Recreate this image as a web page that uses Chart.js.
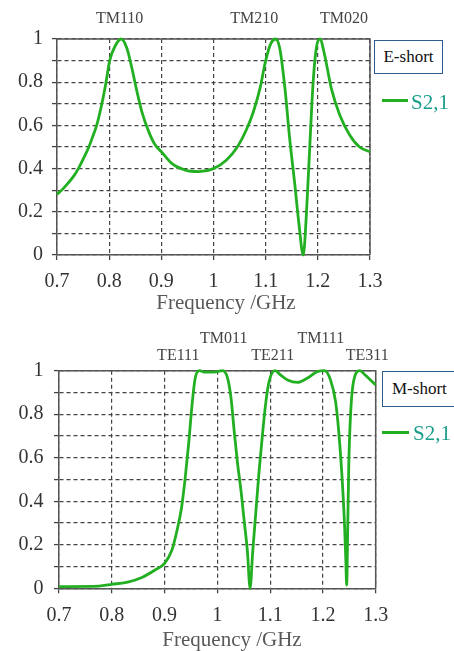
<!DOCTYPE html>
<html><head><meta charset="utf-8">
<script src="https://cdn.jsdelivr.net/npm/chart.js@4.4.1/dist/chart.umd.min.js"></script>
<style>
html,body{margin:0;padding:0;background:#fff;}
body{width:454px;height:651px;position:relative;overflow:hidden;font-family:'Liberation Serif',serif;}
.wrap{position:absolute;left:0;width:454px;}
#w1{top:0;height:320px}
#w2{top:320px;height:331px}
canvas{display:block}
.box{position:absolute;border:1.5px solid #2f5b8c;background:#fff;color:#111;font-family:'Liberation Serif',serif;font-size:17px;box-sizing:border-box;white-space:nowrap;}
.lline{position:absolute;height:3px;background:#22b022;}
.ltxt{position:absolute;font-family:'Liberation Serif',serif;font-size:21px;line-height:24px;color:#1a9c8a;white-space:nowrap;}
</style>
</head><body>
<div class="wrap" id="w1"><canvas id="c1" width="454" height="320"></canvas></div>
<div class="wrap" id="w2"><canvas id="c2" width="454" height="331"></canvas></div>

<div class="box" style="left:374px;top:40px;width:69px;height:34px;line-height:31px;text-align:center;">E-short</div>
<div class="lline" style="left:382px;top:99px;width:26px;"></div>
<div class="ltxt" style="left:411px;top:90px;">S2,1</div>

<div class="box" style="left:382px;top:371px;width:82px;height:36px;line-height:33px;padding-left:9px;">M-short</div>
<div class="lline" style="left:382px;top:431px;width:27px;"></div>
<div class="ltxt" style="left:413px;top:421px;">S2,1</div>

<script>
// ---- data ----
const topFreq = [0.700,0.711,0.722,0.732,0.741,0.750,0.760,0.768,0.776,0.786,0.794,0.801,0.812,0.823,0.834,0.844,0.853,0.863,0.876,0.888,0.900,0.920,0.946,0.972,1.000,1.025,1.044,1.063,1.076,1.089,1.100,1.110,1.119,1.127,1.137,1.146,1.156,1.164,1.172,1.178,1.185,1.191,1.197,1.204,1.213,1.226,1.242,1.261,1.280,1.300];
const topS21  = [0.281,0.305,0.335,0.365,0.40,0.443,0.494,0.545,0.60,0.70,0.80,0.90,0.97,1.0,0.957,0.86,0.76,0.66,0.57,0.51,0.478,0.424,0.393,0.386,0.40,0.44,0.494,0.58,0.66,0.77,0.90,0.98,1.0,0.957,0.77,0.54,0.324,0.139,0.0,0.185,0.525,0.80,0.957,1.0,0.926,0.77,0.648,0.556,0.50,0.478];

const botFreq = [0.700,0.775,0.800,0.832,0.857,0.882,0.900,0.914,0.923,0.932,0.939,0.946,0.952,0.958,0.966,0.977,0.990,1.000,1.010,1.0195,1.026,1.032,1.038,1.045,1.051,1.057,1.062,1.067,1.073,1.079,1.086,1.092,1.098,1.109,1.120,1.133,1.152,1.170,1.189,1.203,1.214,1.224,1.230,1.236,1.241,1.2435,1.245,1.247,1.249,1.252,1.258,1.270,1.280,1.290,1.300];
const botS21  = [0.008,0.01,0.018,0.03,0.05,0.084,0.115,0.176,0.26,0.368,0.505,0.674,0.842,0.965,1.0,0.993,0.993,0.996,1.0,0.965,0.873,0.72,0.58,0.444,0.306,0.168,0.0,0.168,0.352,0.536,0.72,0.858,0.95,1.0,0.98,0.957,0.946,0.965,0.995,1.0,0.96,0.858,0.72,0.52,0.29,0.12,0.015,0.276,0.567,0.78,0.95,1.0,0.98,0.957,0.934];

const xTickLabels = ['0.7','0.8','0.9','1','1.1','1.2','1.3'];
const yTickLabels = ['0','0.2','0.4','0.6','0.8','1'];

const topModes = ['TM110','TM210','TM020'];
const topModeFreq = [0.82,1.078,1.25];
const topModeRow = [0,0,0];
const botModes = ['TE111','TM011','TE211','TM111','TE311'];
const botModeFreq = [0.926,1.012,1.105,1.196,1.284];
const botModeRow = [1,0,1,0,1];

const xTitle = 'Frequency /GHz';

// ---- helpers ----
const SERIF = "'Liberation Serif', serif";
const GREEN = '#22b022';

function pts(fs, vs){ return fs.map((f,i)=>({x:f,y:vs[i]})); }

function makeChart(id, freq, vals, cfg){
  const annot = {
    id:'annot',
    beforeDatasetsDraw(chart){
      const {ctx, chartArea:a} = chart;
      ctx.save();
      ctx.strokeStyle = '#555';
      ctx.lineWidth = 1.5;
      ctx.beginPath();
      ctx.moveTo(a.left, a.top); ctx.lineTo(a.right, a.top); ctx.lineTo(a.right, a.bottom);
      ctx.stroke();
      ctx.restore();
    },
    afterDraw(chart){
      const {ctx} = chart;
      const xs = chart.scales.x;
      ctx.save();
      ctx.fillStyle = '#444';
      ctx.font = '16px ' + SERIF;
      ctx.textAlign = 'center';
      ctx.textBaseline = 'middle';
      cfg.modes.forEach((m,i)=>{
        ctx.fillText(m, xs.getPixelForValue(cfg.modeFreq[i]), cfg.rowY[cfg.modeRow[i]]);
      });
      ctx.fillStyle = '#595959';
      ctx.font = '21px ' + SERIF;
      ctx.fillText(xTitle, cfg.titleX, cfg.titleY);
      ctx.restore();
    }
  };
  return new Chart(document.getElementById(id), {
    type:'line',
    data:{datasets:[{
      data: pts(freq, vals),
      borderColor: GREEN,
      borderWidth: 2.8,
      pointRadius: 0,
      cubicInterpolationMode: 'monotone',
      fill: false,
      clip: 4
    }]},
    options:{
      responsive:false,
      devicePixelRatio:1,
      animation:false,
      layout:{padding:{top:cfg.padTop,right:cfg.padRight,left:0,bottom:0}},
      plugins:{legend:{display:false},tooltip:{enabled:false}},
      scales:{
        x:{
          type:'linear', min:0.7, max:1.3,
          afterFit(s){ s.height = cfg.xH; },
          ticks:{stepSize:0.1, padding:10, color:'#333', font:{family:SERIF,size:20},
            maxRotation:0, autoSkip:false,
            callback:(v)=>xTickLabels[Math.round((v-0.7)*10)] ?? ''},
          grid:{color:'#444', lineWidth:1.2, tickLength:5, tickColor:'#444', tickWidth:1.3},
          border:{color:'#555', width:1.5, dash:[4,3]}
        },
        y:{
          min:0, max:1,
          afterFit(s){ s.width = cfg.yW; },
          ticks:{stepSize:0.1, padding:cfg.yPad, color:'#333', font:{family:SERIF,size:20}, autoSkip:false,
            callback:(v)=>{ const i=Math.round(v*10); return i%2===0 ? yTickLabels[i/2] : ''; }},
          grid:{color:'#444', lineWidth:1.2, tickLength:5, tickColor:'#444', tickWidth:1.3},
          border:{color:'#555', width:1.5, dash:[4,3]}
        }
      }
    },
    plugins:[annot]
  });
}

makeChart('c1', topFreq, topS21, {
  padTop:39, padRight:84, xH:65, yW:57, yPad:9,
  modes:topModes, modeFreq:topModeFreq, modeRow:topModeRow, rowY:[19,19],
  titleX:226, titleY:303
});
makeChart('c2', botFreq, botS21, {
  padTop:50.7, padRight:78.3, xH:62.7, yW:59, yPad:10.5,
  modes:botModes, modeFreq:botModeFreq, modeRow:botModeRow, rowY:[19,36],
  titleX:232, titleY:320
});
</script>
</body></html>
